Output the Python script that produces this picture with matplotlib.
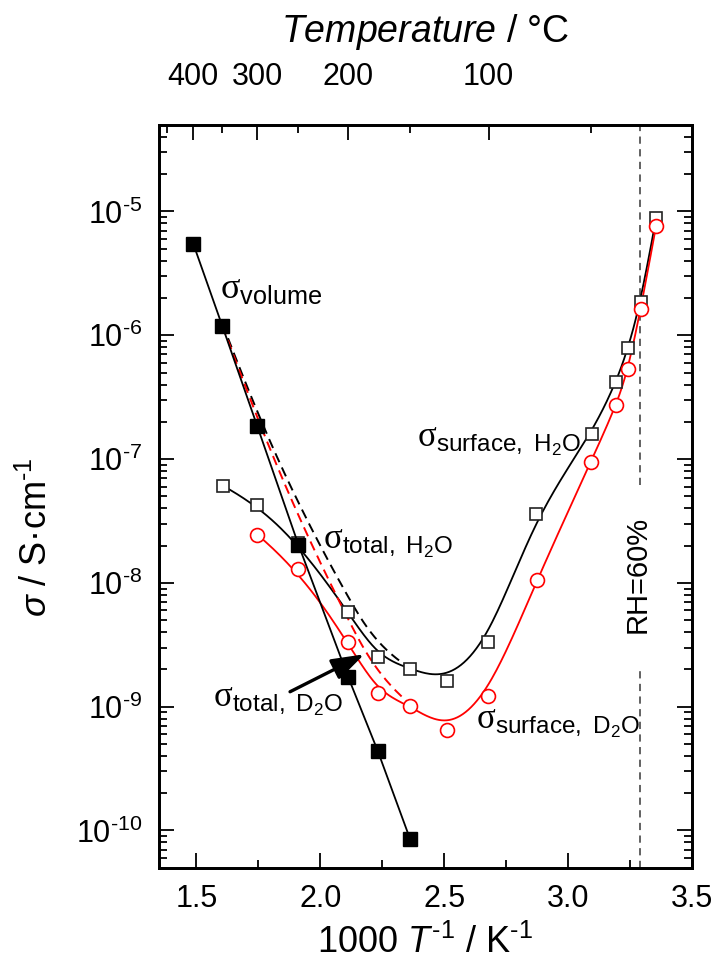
import numpy as np
import matplotlib
matplotlib.use("Agg")
import matplotlib.pyplot as plt
from matplotlib.ticker import LogLocator, NullFormatter, FixedLocator, FuncFormatter

plt.rcParams['font.family'] = ['Liberation Sans', 'DejaVu Sans']
plt.rcParams['mathtext.fontset'] = 'custom'
plt.rcParams['mathtext.rm'] = 'Liberation Sans'
plt.rcParams['mathtext.it'] = 'Liberation Sans:italic'
plt.rcParams['mathtext.bf'] = 'Liberation Sans:bold'
plt.rcParams['mathtext.sf'] = 'Liberation Serif'  # sigma glyph in curve labels

# 1000/T (K^-1) and conductivity (S/cm)
x_vol = [1.487, 1.605, 1.745, 1.912, 2.113, 2.232, 2.363]
s_vol = [5.5e-6, 1.18e-6, 1.86e-7, 2.03e-8, 1.73e-9, 4.4e-10, 8.5e-11]

x_h2o = [1.606, 1.746, 1.912, 2.113, 2.232, 2.363, 2.511, 2.679, 2.871, 3.096, 3.195, 3.244, 3.295, 3.356]
s_h2o = [6.1e-8, 4.27e-8, 2.1e-8, 5.77e-9, 2.54e-9, 2.02e-9, 1.62e-9, 3.3e-9, 3.6e-8, 1.59e-7, 4.2e-7, 7.9e-7, 1.87e-6, 8.8e-6]

x_d2o = [1.746, 1.911, 2.113, 2.232, 2.363, 2.511, 2.679, 2.874, 3.092, 3.195, 3.244, 3.295, 3.356]
s_d2o = [2.45e-8, 1.29e-8, 3.3e-9, 1.3e-9, 1.02e-9, 6.5e-10, 1.21e-9, 1.06e-8, 9.4e-8, 2.71e-7, 5.3e-7, 1.64e-6, 7.6e-6]

# total = volume + surface
x_tot = [1.605, 1.745, 1.912, 2.113, 2.232, 2.363]
s_tot_h2o = [1.24e-6, 2.3e-7, 4.2e-8, 7.5e-9, 3.0e-9, 2.05e-9]
s_tot_d2o = [1.2e-6, 2.1e-7, 3.3e-8, 5.0e-9, 1.75e-9, 1.05e-9]

temp_major = [400, 300, 200, 100]
temp_minor = [450, 350, 250, 150, 50]
x_rh = 3.29


def bspline(xs, ys, n=300):
    # clamped cubic B-spline in (x, log y), points used as control points
    P = np.column_stack([xs, np.log10(ys)])
    k = 3
    m = len(P)
    knots = np.concatenate([np.zeros(k), np.linspace(0, 1, m - k + 1), np.ones(k)])
    t = np.linspace(0, 1, n)
    N = np.zeros((len(knots) - 1, n))
    for i in range(len(knots) - 1):
        N[i] = (knots[i] <= t) & (t < knots[i + 1])
    N[m - 1, -1] = 1.0
    for p in range(1, k + 1):
        Nn = np.zeros((len(knots) - p - 1, n))
        for i in range(len(knots) - p - 1):
            d1 = knots[i + p] - knots[i]
            d2 = knots[i + p + 1] - knots[i + 1]
            a = (t - knots[i]) / d1 * N[i] if d1 > 0 else 0
            b = (knots[i + p + 1] - t) / d2 * N[i + 1] if d2 > 0 else 0
            Nn[i] = a + b
        N = Nn
    C = N.T @ P
    return C[:, 0], 10 ** C[:, 1]


fig = plt.figure(figsize=(7.15, 9.74), dpi=100)
ax = fig.add_axes([0.2228, 0.1091, 0.7446, 0.7626])

ax.set_yscale('log')
ax.set_xlim(1.35, 3.5)
ax.set_ylim(5e-11, 5e-5)

# smooth curves
cx, cy = bspline(x_h2o, s_h2o)
ax.plot(cx, cy, color='black', lw=1.3, zorder=2)
cx, cy = bspline(x_d2o, s_d2o)
ax.plot(cx, cy, color='red', lw=1.3, zorder=2)
cx, cy = bspline(x_tot, s_tot_h2o)
ax.plot(cx, cy, color='black', lw=1.4, ls=(0, (5, 3)), zorder=2)
cx, cy = bspline(x_tot, s_tot_d2o)
ax.plot(cx, cy, color='red', lw=1.4, ls=(0, (5, 3)), zorder=2)

ax.plot(x_h2o, s_h2o, ls='none', marker='s', ms=9.3, mfc='white', mec='#222222', mew=1.2, zorder=3)
ax.plot(x_d2o, s_d2o, ls='none', marker='o', ms=10, mfc='white', mec='red', mew=1.2, zorder=3)
ax.plot(x_vol, s_vol, color='black', lw=1.3, marker='s', ms=10, mfc='black', mec='black', zorder=4)

# RH = 60 % marker line
ax.vlines(x_rh, 6.2e-8, 5e-5, colors='#555555', lw=1.3, linestyles=(0, (4, 3)), zorder=1)
ax.vlines(x_rh, 5e-11, 2.1e-9, colors='#555555', lw=1.3, linestyles=(0, (4, 3)), zorder=1)
ax.text(x_rh - 0.01, 1.16e-8, 'RH=60%', rotation=90, ha='center', va='center', fontsize=21)

ax.text(1.596, 2.0e-6, r'$\mathsf{σ}_{\mathrm{volume}}$', fontsize=26, va='baseline')
ax.text(2.390, 1.26e-7, r'$\mathsf{σ}_{\mathrm{surface,\ H_2O}}$', fontsize=25, va='baseline')
ax.text(2.013, 1.9e-8, r'$\mathsf{σ}_{\mathrm{total,\ H_2O}}$', fontsize=25, va='baseline')
ax.text(1.568, 1.0e-9, r'$\mathsf{σ}_{\mathrm{total,\ D_2O}}$', fontsize=25, va='baseline')
ax.text(2.629, 6.7e-10, r'$\mathsf{σ}_{\mathrm{surface,\ D_2O}}$', fontsize=25, va='baseline')

ax.annotate('', xy=(2.178, 2.65e-9), xytext=(1.878, 1.32e-9),
            arrowprops=dict(arrowstyle='-|>,head_length=0.9,head_width=0.3',
                            color='black', lw=2.4, mutation_scale=22, shrinkA=0, shrinkB=0))

# axes styling
for s in ax.spines.values():
    s.set_linewidth(2.0)
ax.set_xticks([1.5, 2.0, 2.5, 3.0, 3.5])
ax.set_xticks([1.75, 2.25, 2.75, 3.25], minor=True)
ax.xaxis.set_major_formatter(matplotlib.ticker.FormatStrFormatter('%.1f'))
ax.yaxis.set_major_locator(LogLocator(base=10, numticks=20))
ax.yaxis.set_minor_locator(LogLocator(base=10, subs=np.arange(2, 10), numticks=20))
ax.yaxis.set_major_formatter(FuncFormatter(
    lambda v, pos: r'$10^{\text{-}%d}$' % -int(round(np.log10(v)))))
ax.yaxis.set_minor_formatter(NullFormatter())
ax.tick_params(which='both', direction='in', right=True, top=False, width=1.3)
ax.tick_params(which='major', length=11, labelsize=22)
ax.tick_params(which='minor', length=6)
ax.tick_params(axis='x', pad=12)
ax.tick_params(axis='y', pad=12)

# temperature scale on top
ax2 = ax.twiny()
ax2.set_xlim(ax.get_xlim())
ax2.set_xticks([1000 / (t + 273.15) for t in temp_major])
ax2.set_xticklabels([str(t) for t in temp_major])
ax2.xaxis.set_minor_locator(FixedLocator([1000 / (t + 273.15) for t in temp_minor]))
ax2.tick_params(which='both', direction='in', width=1.3, labelsize=22, pad=24)
ax2.tick_params(which='major', length=11)
ax2.tick_params(which='minor', length=6)
for s in ax2.spines.values():
    s.set_linewidth(2.0)

fig.text(425 / 715, 1 - 32 / 974, r'$\mathit{Temperature}$ / °C', ha='center', va='center', fontsize=27)
fig.text(425 / 715, 1 - 943 / 974, r'1000 $\mathit{T}^{\text{-}1}$ / K$^{\text{-}1}$', ha='center', va='center', fontsize=26)
fig.text(37 / 715, 1 - 537 / 974, r'$\mathit{σ}$ / S·cm$^{\text{-}1}$', ha='center', va='center', rotation=90, fontsize=26)

fig.savefig('out.png', dpi=100)
